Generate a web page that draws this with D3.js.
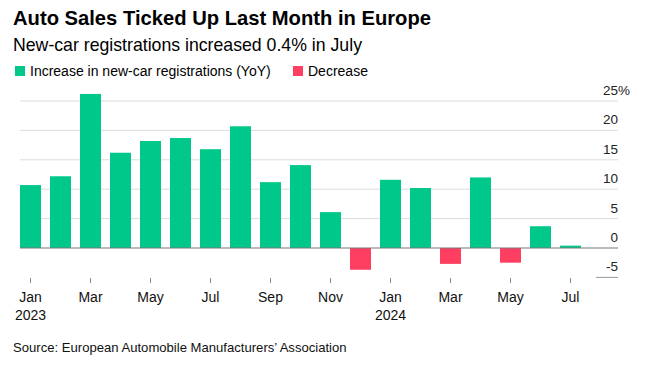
<!DOCTYPE html>
<html><head><meta charset="utf-8">
<script src="https://cdn.jsdelivr.net/npm/d3@7"></script>
<style>
body{margin:0;background:#fff;}
svg{display:block;font-family:"Liberation Sans",Arial,sans-serif;}
</style></head>
<body>
<svg id="c" width="646" height="367"></svg>
<script>
const months = ["2023-01","2023-02","2023-03","2023-04","2023-05","2023-06","2023-07","2023-08","2023-09","2023-10","2023-11","2023-12","2024-01","2024-02","2024-03","2024-04","2024-05","2024-06","2024-07"];
const values = [10.7,12.2,26.2,16.2,18.2,18.7,16.8,20.7,11.2,14.1,6.1,-3.7,11.6,10.2,-2.7,12.0,-2.5,3.7,0.4];
const yTicks = [25,20,15,10,5,0,-5];
const xTickMonths = ["2023-01","2023-03","2023-05","2023-07","2023-09","2023-11","2024-01","2024-03","2024-05","2024-07"];
const monthNames = {"01":"Jan","03":"Mar","05":"May","07":"Jul","09":"Sep","11":"Nov"};

const GREEN="#00c88a", RED="#ff3f62";
const svg=d3.select("#c");
const left=20, right=618;
const x=d3.scaleBand().domain(months).range([20,581]).paddingInner(0.3).paddingOuter(0);
const y=d3.scaleLinear().domain([-5,25]).range([277.4,101]);

svg.append("text").attr("x",13).attr("y",25).attr("font-size",20.2).attr("font-weight","bold").attr("fill","#000").text("Auto Sales Ticked Up Last Month in Europe");
svg.append("text").attr("x",13).attr("y",51).attr("font-size",17.7).attr("fill","#000").text("New-car registrations increased 0.4% in July");
const lg=svg.append("g").attr("font-size",14);
lg.append("rect").attr("x",15).attr("y",66).attr("width",10).attr("height",10).attr("fill",GREEN);
lg.append("text").attr("x",30).attr("y",75.5).text("Increase in new-car registrations (YoY)");
lg.append("rect").attr("x",293).attr("y",66).attr("width",10).attr("height",10).attr("fill",RED);
lg.append("text").attr("x",308).attr("y",75.5).text("Decrease");

yTicks.forEach(t=>{
  if(t===0) return;
  svg.append("line").attr("x1",t===-5?596:left).attr("x2",right).attr("y1",y(t)).attr("y2",y(t))
    .attr("stroke",t===-5?"#999":"#dcdcdc").attr("stroke-width",1);
});
yTicks.forEach(t=>{
  svg.append("text").attr("x",right).attr("y",y(t)-6).attr("text-anchor","end").attr("font-size",13.5).attr("fill","#222").text(t);
  if(t===25) svg.append("text").attr("x",right).attr("y",y(t)-6).attr("font-size",13.5).attr("fill","#222").text("%");
});

svg.selectAll("rect.bar").data(months).enter().append("rect").attr("class","bar")
  .attr("x",d=>x(d)).attr("width",x.bandwidth())
  .attr("y",(d,i)=>y(Math.max(0,values[i])))
  .attr("height",(d,i)=>Math.abs(y(values[i])-y(0)))
  .attr("fill",(d,i)=>values[i]>=0?GREEN:RED);

svg.append("line").attr("x1",left).attr("x2",right).attr("y1",y(0)).attr("y2",y(0)).attr("stroke","#777").attr("stroke-width",1.2);

xTickMonths.forEach(m=>{
  const cx=x(m)+x.bandwidth()/2;
  svg.append("line").attr("x1",cx).attr("x2",cx).attr("y1",278).attr("y2",283).attr("stroke","#888");
  const [yr,mo]=m.split("-");
  svg.append("text").attr("x",cx).attr("y",302).attr("text-anchor","middle").attr("font-size",14).attr("fill","#111").text(monthNames[mo]);
  if(mo==="01") svg.append("text").attr("x",cx).attr("y",320).attr("text-anchor","middle").attr("font-size",14).attr("fill","#111").text(yr);
});

svg.append("text").attr("x",13).attr("y",352).attr("font-size",13.1).attr("fill","#111").text("Source: European Automobile Manufacturers\u2019 Association");
</script>
</body></html>
